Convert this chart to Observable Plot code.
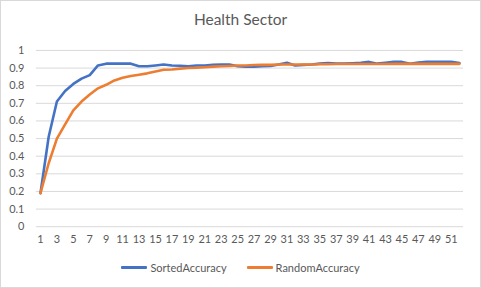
<!DOCTYPE html>
<html><head><meta charset="utf-8">
<script src="https://cdn.jsdelivr.net/npm/d3@7"></script>
<script src="https://cdn.jsdelivr.net/npm/@observablehq/plot@0.6"></script>
<style>
body{margin:0;background:#fff;}
#wrap{width:481px;height:288px;box-sizing:border-box;border:1px solid #d9d9d9;position:relative;overflow:hidden;font-family:Lato,"Open Sans",sans-serif;color:#595959;}
#title{position:absolute;top:9px;left:0;width:100%;text-align:center;font-size:15.5px;}
#chart{position:absolute;top:35px;left:-1px;}
#legend{position:absolute;top:260px;left:0;width:100%;display:flex;justify-content:center;gap:20px;font-size:11px;}
#legend span.item{display:flex;align-items:center;}
#legend span.sw{display:inline-block;width:26px;height:3px;margin-right:3px;border-radius:1px;}
</style></head><body>
<div id="wrap">
<div id="title">Health Sector</div>
<div id="chart"></div>
<div id="legend"></div>
</div>
<script>
const index = d3.range(1, 53);
const sortedAccuracy = [0.19,0.51,0.71,0.77,0.81,0.84,0.86,0.915,0.925,0.925,0.925,0.925,0.91,0.91,0.915,0.92,0.915,0.913,0.91,0.915,0.915,0.918,0.92,0.92,0.91,0.908,0.908,0.91,0.912,0.92,0.93,0.915,0.918,0.92,0.925,0.928,0.925,0.925,0.927,0.93,0.935,0.925,0.93,0.935,0.935,0.925,0.932,0.935,0.935,0.935,0.935,0.928];
const randomAccuracy = [0.19,0.36,0.50,0.58,0.66,0.71,0.75,0.785,0.805,0.83,0.845,0.855,0.862,0.87,0.88,0.89,0.892,0.897,0.90,0.902,0.905,0.908,0.91,0.912,0.915,0.915,0.917,0.918,0.918,0.92,0.92,0.92,0.92,0.92,0.922,0.922,0.923,0.923,0.923,0.923,0.923,0.923,0.923,0.924,0.924,0.924,0.924,0.924,0.924,0.924,0.924,0.924];
const seriesNames = ["SortedAccuracy", "RandomAccuracy"];
const seriesColors = ["#4472C4", "#ED7D31"];
const xTicks = index.filter(d => d % 2 === 1);
const yTicks = d3.range(0, 11).map(d => d / 10);

const data = [];
index.forEach((x, i) => {
  data.push({x, y: sortedAccuracy[i], s: seriesNames[0]});
  data.push({x, y: randomAccuracy[i], s: seriesNames[1]});
});

const chart = Plot.plot({
  width: 482,
  height: 216,
  marginTop: 14,
  marginBottom: 25,
  marginLeft: 36,
  marginRight: 17,
  style: {fontFamily: "Lato, 'Open Sans', sans-serif", fontSize: "11px", color: "#595959", background: "transparent"},
  x: {type: "point", domain: index, padding: 0.5, round: false, ticks: xTicks, tickSize: 0, tickPadding: 9, label: null},
  y: {domain: [0, 1], ticks: yTicks, tickFormat: d => String(+d.toFixed(1)), tickSize: 0, tickPadding: 12, label: null},
  color: {domain: seriesNames, range: seriesColors},
  marks: [
    Plot.gridY(yTicks, {stroke: "#d9d9d9", strokeOpacity: 1, strokeWidth: 1}),
    Plot.axisY({ticks: yTicks, tickFormat: d => String(+d.toFixed(1)), tickSize: 0, tickPadding: 12, fill: "#595959", label: null}),
    Plot.axisX({ticks: xTicks, tickSize: 0, tickPadding: 9, fill: "#595959", label: null}),
    Plot.line(data, {x: "x", y: "y", z: "s", stroke: "s", strokeWidth: 2.6, strokeLinejoin: "round", strokeLinecap: "round"})
  ]
});
document.getElementById("chart").appendChild(chart);

const legend = document.getElementById("legend");
seriesNames.forEach((n, i) => {
  const it = document.createElement("span");
  it.className = "item";
  it.innerHTML = `<span class="sw" style="background:${seriesColors[i]}"></span>${n}`;
  legend.appendChild(it);
});
</script>
</body></html>
